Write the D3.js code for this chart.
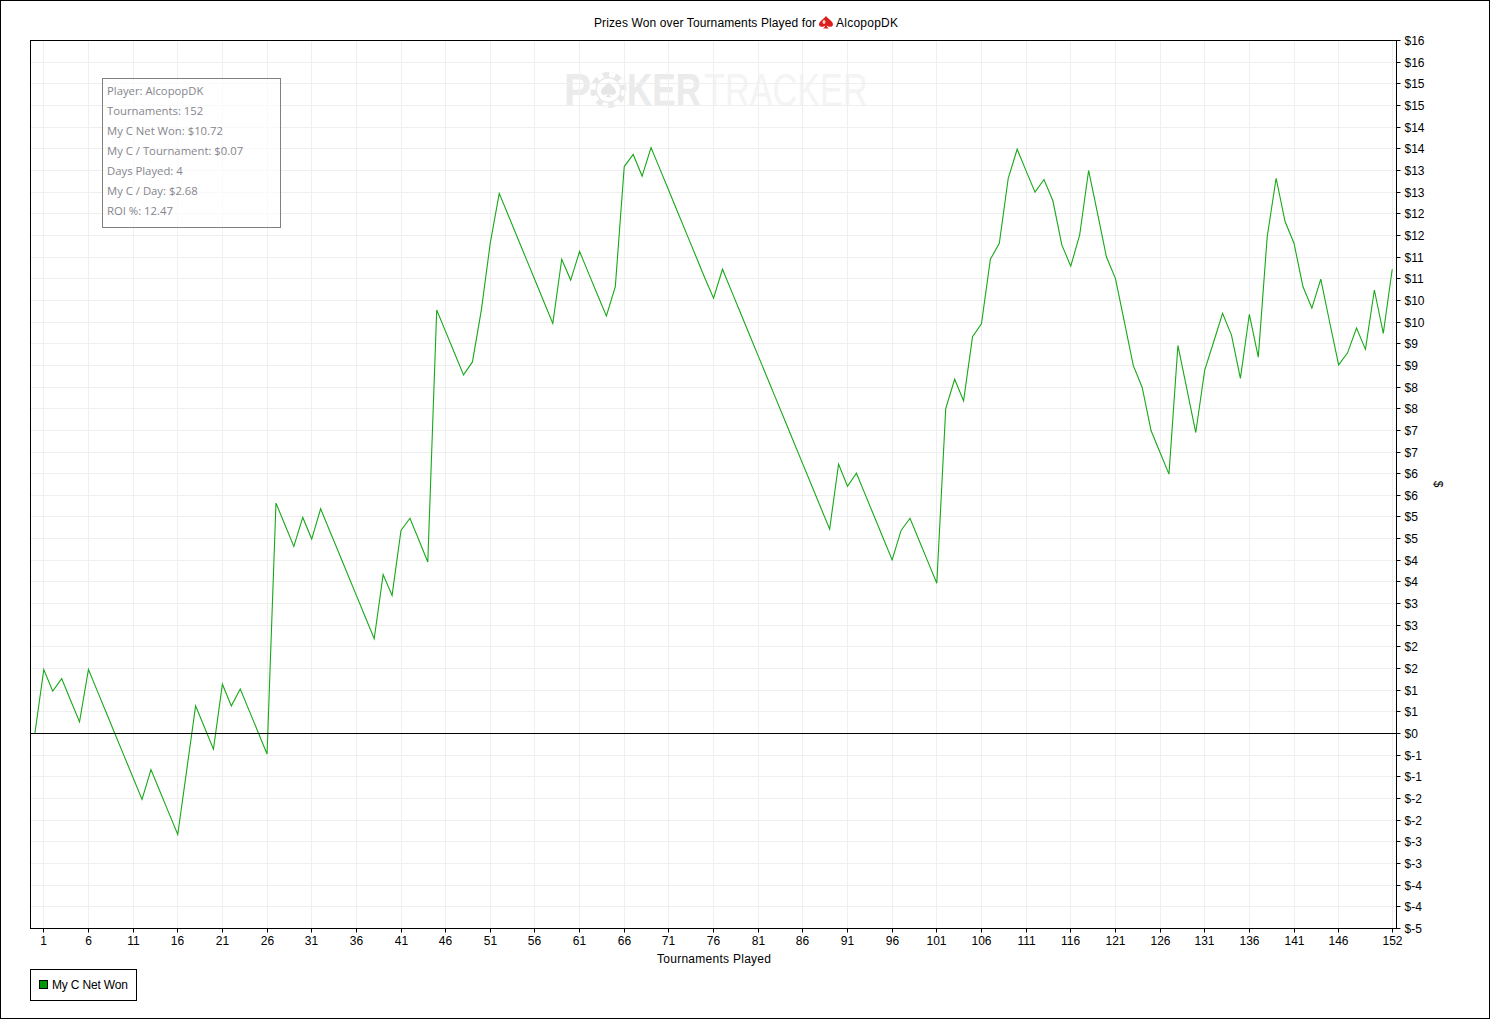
<!DOCTYPE html>
<html>
<head>
<meta charset="utf-8">
<script src="https://cdn.jsdelivr.net/npm/d3@7"></script>
<style>
  body { margin: 0; background: #fff; }
  text { font-family: "Liberation Sans", Arial, sans-serif; font-size: 12px; fill: #000; }
</style>
</head>
<body>
<svg width="1490" height="1019"></svg>
<script>
// cumulative net won after each tournament, index = tournament number
const netWon = [
  0,
  1.48, 0.98, 1.27, 0.77, 0.27, 1.48, 0.98, 0.48, -0.02, -0.52,
  -1.02, -1.52, -0.83, -1.33, -1.83, -2.33, -0.85, 0.64, 0.14, -0.36,
  1.14, 0.64, 1.03, 0.53, 0.03, -0.47, 5.32, 4.82, 4.32, 4.99,
  4.49, 5.19, 4.69, 4.19, 3.69, 3.19, 2.69, 2.19, 3.67, 3.19,
  4.69, 4.97, 4.47, 3.96, 9.78, 9.28, 8.78, 8.28, 8.58, 9.78,
  11.33, 12.47, 11.97, 11.47, 10.97, 10.47, 9.97, 9.47, 10.95, 10.47,
  11.13, 10.63, 10.13, 9.64, 10.32, 13.09, 13.37, 12.87, 13.53, 13.03,
  12.53, 12.03, 11.53, 11.03, 10.53, 10.05, 10.72, 10.22, 9.72, 9.22,
  8.72, 8.22, 7.72, 7.22, 6.72, 6.22, 5.72, 5.22, 4.72, 6.22,
  5.71, 6.01, 5.51, 5.01, 4.51, 4.01, 4.69, 4.97, 4.47, 3.97,
  3.47, 7.5, 8.18, 7.68, 9.16, 9.46, 10.95, 11.32, 12.82, 13.49,
  12.99, 12.5, 12.79, 12.3, 11.28, 10.79, 11.51, 13.0, 12.01, 11.0,
  10.51, 9.51, 8.5, 7.99, 6.99, 6.49, 5.99, 8.96, 7.96, 6.95,
  8.39, 9.04, 9.7, 9.2, 8.2, 9.68, 8.69, 11.47, 12.82, 11.82,
  11.32, 10.32, 9.82, 10.49, 9.49, 8.51, 8.79, 9.36, 8.87, 10.24,
  9.24, 10.72
];

const xTicks = [1, 6, 11, 16, 21, 26, 31, 36, 41, 46, 51, 56, 61, 66, 71, 76, 81, 86, 91, 96,
  101, 106, 111, 116, 121, 126, 131, 136, 141, 146, 152];

const yTicks = [16, 15.5, 15, 14.5, 14, 13.5, 13, 12.5, 12, 11.5, 11, 10.5, 10, 9.5, 9, 8.5, 8, 7.5, 7, 6.5,
  6, 5.5, 5, 4.5, 4, 3.5, 3, 2.5, 2, 1.5, 1, 0.5, 0, -0.5, -1, -1.5, -2, -2.5, -3, -3.5, -4, -4.5];
const yLabels = ["$16", "$16", "$15", "$15", "$14", "$14", "$13", "$13", "$12", "$12", "$11", "$11", "$10", "$10",
  "$9", "$9", "$8", "$8", "$7", "$7", "$6", "$6", "$5", "$5", "$4", "$4", "$3", "$3", "$2", "$2", "$1", "$1", "$0",
  "$-1", "$-1", "$-2", "$-2", "$-3", "$-3", "$-4", "$-4", "$-5"];

const statLines = ["Player: AlcopopDK", "Tournaments: 152", "My C Net Won: $10.72", "My C / Tournament: $0.07",
  "Days Played: 4", "My C / Day: $2.68", "ROI %: 12.47"];

const svg = d3.select("svg");
const plotLeft = 30.5, plotRight = 1396.5, plotTop = 40.5, plotBottom = 928.5;

const x = d3.scaleLinear().domain([0, 152]).range([34.87, 1392.23]);
const y = d3.scaleLinear().domain([-4.5, 16]).range([plotBottom, plotTop]);

// grid lines and ticks sit on whole pixels
const snapX = d => Math.round(x(d) - 0.5) + 0.5;
const snapY = d => Math.round(y(d) - 0.5) + 0.5;

// outer border
svg.append("rect").attr("x", 0.5).attr("y", 0.5).attr("width", 1489).attr("height", 1018)
  .attr("fill", "#fff").attr("stroke", "#000");

// spade shape, drawn around 0,0 and about 2 units wide
const spade = "M0,-1 C0.35,-0.45 1,-0.1 1,0.4 C1,0.8 0.45,0.95 0.1,0.6 C0.15,0.85 0.25,1 0.45,1.1 L-0.45,1.1 C-0.25,1 -0.15,0.85 -0.1,0.6 C-0.45,0.95 -1,0.8 -1,0.4 C-1,-0.1 -0.35,-0.45 0,-1 Z";

// watermark sits under the grid
const mark = svg.append("g");
mark.append("text").attr("transform", "translate(564,106) scale(0.88,1)")
  .style("font-size", "46px").style("font-weight", "bold").style("fill", "#ebebeb").text("P");
mark.append("circle").attr("cx", 608.5).attr("cy", 90).attr("r", 18).attr("fill", "#e9e9e9");
mark.append("circle").attr("cx", 608.5).attr("cy", 90).attr("r", 15.5).attr("fill", "none")
  .attr("stroke", "#fff").attr("stroke-width", 5).attr("stroke-dasharray", "6 6.2");
mark.append("circle").attr("cx", 608.5).attr("cy", 90).attr("r", 11.5).attr("fill", "#fff");
mark.append("path").attr("d", spade).attr("transform", "translate(608.5,89) scale(7.5)").attr("fill", "#e6e6e6");
mark.append("text").attr("transform", "translate(627,106) scale(0.762,1)")
  .style("font-size", "46px").style("font-weight", "bold").style("fill", "#ebebeb").text("KER");
mark.append("text").attr("transform", "translate(704,106) scale(0.745,1)")
  .style("font-size", "46px").style("fill", "#f4f4f4").text("TRACKER");

// grid
svg.append("g").selectAll("line").data(xTicks).join("line")
  .attr("x1", snapX).attr("x2", snapX)
  .attr("y1", plotTop).attr("y2", plotBottom).attr("stroke", "#efefef");
svg.append("g").selectAll("line").data(yTicks).join("line")
  .attr("x1", plotLeft).attr("x2", plotRight)
  .attr("y1", snapY).attr("y2", snapY).attr("stroke", "#efefef");

// axes
const xAxis = d3.axisBottom(x).tickValues(xTicks).tickFormat(d3.format("d")).tickSize(4).tickPadding(4).offset(0);
const yAxis = d3.axisRight(y).tickValues(yTicks).tickFormat((d, i) => yLabels[i]).tickSize(4).tickPadding(4).offset(0);

const gx = svg.append("g").attr("transform", `translate(0,${plotBottom})`).call(xAxis);
const gy = svg.append("g").attr("transform", `translate(${plotRight},0)`).call(yAxis);
gx.select(".domain").remove();
gy.select(".domain").remove();
gx.selectAll(".tick").attr("transform", d => `translate(${snapX(d)},0)`);
gy.selectAll(".tick").attr("transform", d => `translate(0,${snapY(d)})`);
gx.selectAll("line").attr("stroke", "#000");
gy.selectAll("line").attr("stroke", "#000");
gx.selectAll("text").style("font-family", "Liberation Sans").style("font-size", "12px");
gy.selectAll("text").attr("y", 1).style("font-family", "Liberation Sans").style("font-size", "12px");

// stats box
svg.append("rect").attr("x", 102.5).attr("y", 78.5).attr("width", 178).attr("height", 149)
  .attr("fill", "#fff").attr("fill-opacity", 0.6).attr("stroke", "#808080");
svg.append("g").selectAll("text").data(statLines).join("text")
  .attr("x", 107).attr("y", (d, i) => 95 + i * 20)
  .style("font-family", "Open Sans").style("font-size", "11.3px").style("fill", "#85858d").text(d => d);

// line
const line = d3.line().x((d, i) => x(i)).y(d => y(d));
svg.append("path").attr("d", line(netWon)).attr("fill", "none").attr("stroke", "#18a818").attr("stroke-width", 1.1);

// zero line and frame
svg.append("line").attr("x1", plotLeft).attr("x2", plotRight).attr("y1", snapY(0)).attr("y2", snapY(0)).attr("stroke", "#000");
svg.append("rect").attr("x", plotLeft).attr("y", plotTop).attr("width", plotRight - plotLeft).attr("height", plotBottom - plotTop)
  .attr("fill", "none").attr("stroke", "#000");

// title with the room icon
svg.append("text").attr("x", 594).attr("y", 27).attr("textLength", 222).text("Prizes Won over Tournaments Played for");
svg.append("path").attr("d", spade).attr("transform", "translate(826,22) scale(7,6)").attr("fill", "#dd1c1c");
svg.append("ellipse").attr("cx", 824).attr("cy", 22).attr("rx", 1.5).attr("ry", 2).attr("fill", "#fbd0d0");
svg.append("text").attr("x", 836).attr("y", 27).attr("textLength", 62).text("AlcopopDK");

// axis titles
svg.append("text").attr("x", 657).attr("y", 963).attr("textLength", 114).text("Tournaments Played");
svg.append("text").attr("transform", "translate(1434,484) rotate(90)").attr("text-anchor", "middle").text("$");

// legend
svg.append("rect").attr("x", 30.5).attr("y", 969.5).attr("width", 106).attr("height", 31).attr("fill", "#fff").attr("stroke", "#000");
svg.append("rect").attr("x", 39.5).attr("y", 980.5).attr("width", 8).attr("height", 8).attr("fill", "#009900").attr("stroke", "#000");
svg.append("text").attr("x", 52).attr("y", 989).attr("textLength", 76).text("My C Net Won");
</script>
</body>
</html>
